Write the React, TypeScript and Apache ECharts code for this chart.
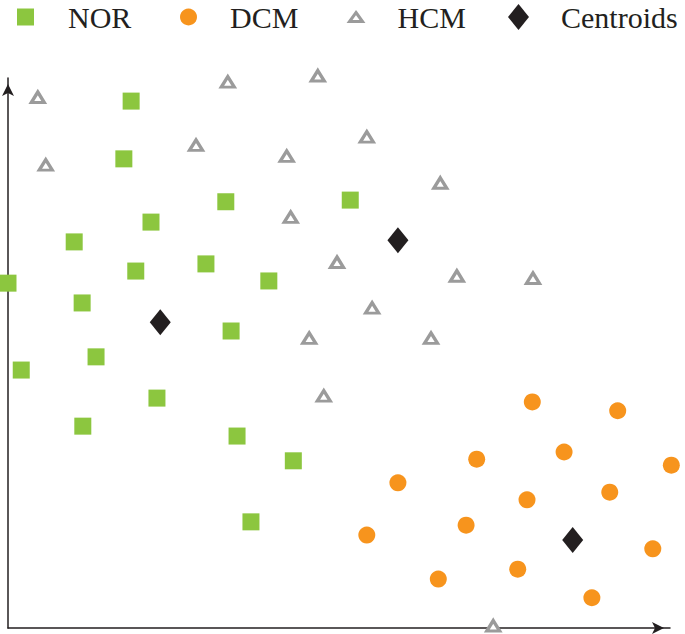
import React, { useEffect, useRef } from "react";
import * as echarts from "echarts";

// [x, y] values (axis units 0–100)
const norPoints: number[][] = [
  [18.6, 95.8], [17.5, 85.3], [32.9, 77.5], [51.7, 77.8], [21.6, 73.8],
  [10.0, 70.2], [19.3, 64.9], [29.9, 66.2], [39.4, 63.1], [0.0, 62.7],
  [11.2, 59.1], [33.7, 54.0], [13.3, 49.3], [2.0, 46.9], [22.5, 41.8],
  [11.3, 36.7], [34.6, 34.9], [43.1, 30.4], [36.7, 19.3],
];
const dcmPoints: number[][] = [
  [79.2, 41.1], [92.1, 39.5], [70.8, 30.7], [84.0, 32.0], [100.2, 29.6],
  [58.9, 26.4], [78.4, 23.3], [90.9, 24.7], [69.2, 18.7], [54.2, 16.9],
  [97.4, 14.4], [77.0, 10.7], [65.0, 8.9], [88.2, 5.5],
];
const hcmPoints: number[][] = [
  [4.5, 96.5], [33.2, 99.3], [46.8, 100.4], [5.7, 84.2], [28.4, 87.8],
  [42.1, 85.8], [54.2, 89.3], [65.3, 80.9], [42.7, 74.7], [49.7, 66.5],
  [67.8, 64.0], [79.3, 63.6], [55.0, 58.2], [45.5, 52.7], [63.9, 52.7],
  [47.7, 42.2], [73.3, 0.4],
];
const centroidPoints: number[][] = [
  [23.0, 55.6], [58.9, 70.5], [85.3, 16.0],
];
const seriesNames = ["NOR", "DCM", "HCM", "Centroids"];

const GREEN = "#8CC63F";
const ORANGE = "#F7941D";
const GREY = "#9B9B9B";
const BLACK = "#231F20";
const FONT = "Liberation Serif";

function legendFor(name: string, left: number, w: number, h: number, icon: string, gap: number, extra: any = {}) {
  return {
    data: [name],
    left,
    top: 2,
    itemWidth: w,
    itemHeight: h,
    icon,
    symbolKeepAspect: false,
    selectedMode: false,
    padding: 0,
    formatter: (n: string) => "{g| }" + n,
    textStyle: {
      fontFamily: FONT,
      fontSize: 30,
      lineHeight: 30,
      color: BLACK,
      rich: { g: { width: gap, fontSize: 30, lineHeight: 30, fontFamily: FONT } },
    },
    ...extra,
  };
}

export default function App() {
  const ref = useRef<HTMLDivElement>(null);
  useEffect(() => {
    if (!ref.current) return;
    const chart = echarts.init(ref.current, undefined, { renderer: "svg" });
    chart.setOption({
      animation: false,
      backgroundColor: "#ffffff",
      legend: [
        legendFor(seriesNames[0], 17, 17, 17, "rect", 29),
        legendFor(seriesNames[1], 180, 17, 17, "circle", 28),
        legendFor(seriesNames[2], 348, 13, 9, "triangle", 30, {
          itemStyle: { color: "#ffffff", borderColor: GREY, borderWidth: 3 },
        }),
        legendFor(seriesNames[3], 508, 21, 26, "diamond", 27),
      ],
      grid: { left: 8, right: 15, top: 78, bottom: 6 },
      xAxis: {
        type: "value",
        min: 0,
        max: 100,
        axisLine: {
          onZero: false,
          symbol: ["none", "arrow"],
          symbolSize: [9, 12],
          symbolOffset: [0, -6],
          lineStyle: { color: BLACK, width: 1.5 },
        },
        axisTick: { show: false },
        axisLabel: { show: false },
        splitLine: { show: false },
      },
      yAxis: {
        type: "value",
        min: 0,
        max: 100,
        axisLine: {
          show: true,
          onZero: false,
          symbol: ["none", "arrow"],
          symbolSize: [9, 12],
          symbolOffset: [0, -6],
          lineStyle: { color: BLACK, width: 1.5 },
        },
        axisTick: { show: false },
        axisLabel: { show: false },
        splitLine: { show: false },
      },
      series: [
        {
          name: seriesNames[0],
          type: "scatter",
          data: norPoints,
          symbol: "rect",
          symbolSize: 17,
          clip: false,
          itemStyle: { color: GREEN, opacity: 1 },
        },
        {
          name: seriesNames[1],
          type: "scatter",
          data: dcmPoints,
          symbol: "circle",
          symbolSize: 17,
          clip: false,
          itemStyle: { color: ORANGE, opacity: 1 },
        },
        {
          name: seriesNames[2],
          type: "scatter",
          data: hcmPoints,
          symbol: "triangle",
          symbolSize: [13, 10.5],
          clip: false,
          itemStyle: { color: "#ffffff", borderColor: GREY, borderWidth: 3.2, opacity: 1 },
        },
        {
          name: seriesNames[3],
          type: "scatter",
          data: centroidPoints,
          symbol: "diamond",
          symbolSize: [21, 26],
          clip: false,
          z: 5,
          itemStyle: { color: BLACK, opacity: 1 },
        },
      ],
    });
    return () => chart.dispose();
  }, []);
  return (
    <div
      ref={ref}
      style={{ position: "absolute", left: 0, top: 0, width: 685, height: 634 }}
    />
  );
}
